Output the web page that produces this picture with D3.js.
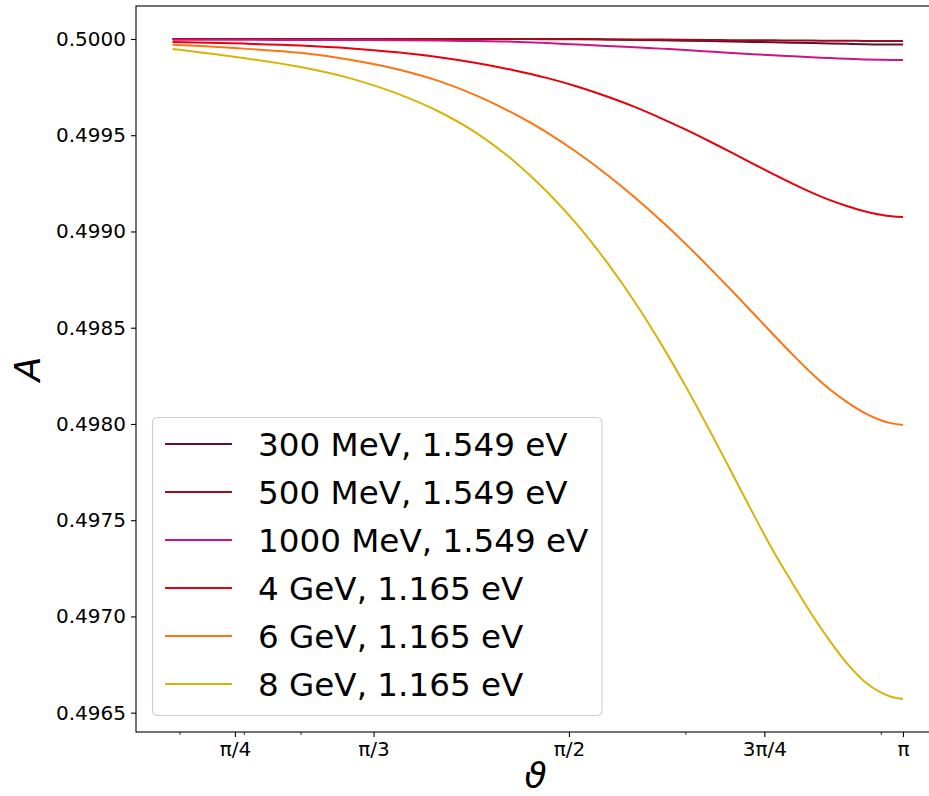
<!DOCTYPE html>
<html>
<head>
<meta charset="utf-8">
<script src="https://cdn.jsdelivr.net/npm/d3@7"></script>
<style>
  html, body { margin: 0; padding: 0; background: #ffffff; }
  svg { display: block; font-family: "DejaVu Sans", sans-serif; }
</style>
</head>
<body>
<svg id="chart" width="929" height="796"></svg>
<script>
// Scattering angle (rad) at which the asymmetry was evaluated
const theta = [0.69, 0.8, 0.9, 1.0, 1.1, 1.2, 1.3, 1.4, 1.5, 1.6, 1.7, 1.8, 1.9,
               2.0, 2.1, 2.2, 2.3, 2.4, 2.5, 2.6, 2.7, 2.8, 2.9, 3.0, 3.07, Math.PI];

// Asymmetry A(θ) for each beam energy / laser photon energy
const A_300MeV = [0.500000, 0.500000, 0.500000, 0.500000, 0.500000, 0.500000, 0.500000,
                  0.500000, 0.500000, 0.500000, 0.499998, 0.499995, 0.499993, 0.499991,
                  0.499989, 0.499987, 0.499985, 0.499983, 0.499981, 0.499979, 0.499977,
                  0.499975, 0.499973, 0.499972, 0.499972, 0.499972];
const A_500MeV = [0.500000, 0.500000, 0.500000, 0.500000, 0.500000, 0.500000, 0.500000,
                  0.500000, 0.499999, 0.499999, 0.499998, 0.499998, 0.499997, 0.499996,
                  0.499995, 0.499994, 0.499993, 0.499993, 0.499992, 0.499992, 0.499991,
                  0.499991, 0.499990, 0.499990, 0.499990, 0.499990];
const A_1000MeV = [0.499996, 0.499996, 0.499995, 0.499995, 0.499994, 0.499992, 0.499989,
                   0.499986, 0.499979, 0.499971, 0.499964, 0.499957, 0.499950, 0.499943,
                   0.499935, 0.499927, 0.499921, 0.499915, 0.499910, 0.499905, 0.499901,
                   0.499897, 0.499894, 0.499892, 0.499891, 0.499891];
const A_4GeV = [0.499984, 0.499976, 0.499966, 0.499951, 0.499931, 0.499905, 0.499874,
                0.499838, 0.499798, 0.499752, 0.499701, 0.499647, 0.499589, 0.499530,
                0.499470, 0.499411, 0.499353, 0.499298, 0.499247, 0.499202, 0.499163,
                0.499131, 0.499105, 0.499087, 0.499079, 0.499075];
const A_6GeV = [0.499970, 0.499950, 0.499928, 0.499891, 0.499843, 0.499781, 0.499703,
                0.499613, 0.499515, 0.499408, 0.499295, 0.499178, 0.499058, 0.498937,
                0.498815, 0.498695, 0.498578, 0.498465, 0.498359, 0.498262, 0.498179,
                0.498112, 0.498057, 0.498019, 0.498003, 0.497995];
const A_8GeV = [0.499948, 0.499901, 0.499854, 0.499794, 0.499716, 0.499622, 0.499507,
                0.499368, 0.499208, 0.499032, 0.498839, 0.498635, 0.498420, 0.498199,
                0.497974, 0.497752, 0.497538, 0.497340, 0.497169, 0.497010, 0.496872,
                0.496753, 0.496662, 0.496605, 0.496581, 0.496571];

const seriesLabels = ["300 MeV, 1.549 eV", "500 MeV, 1.549 eV", "1000 MeV, 1.549 eV",
                      "4 GeV, 1.165 eV", "6 GeV, 1.165 eV", "8 GeV, 1.165 eV"];
const seriesValues = [A_300MeV, A_500MeV, A_1000MeV, A_4GeV, A_6GeV, A_8GeV];
const seriesColors = ["#6a0c2c", "#9b0d1e", "#cc1485", "#e8000b", "#ff7412", "#d9b30a"];

// x axis tick marks (radians) and their labels
const xTickValues = [Math.PI / 4, Math.PI / 3, Math.PI / 2, 3 * Math.PI / 4, Math.PI];
const xTickLabels = ["π/4", "π/3", "π/2", "3π/4", "π"];
const xMinorTicks = [0.7, 0.8, 0.9, 2, 3];
const yTickValues = [0.4965, 0.4970, 0.4975, 0.4980, 0.4985, 0.4990, 0.4995, 0.5000];

// ---- layout ----
const svg = d3.select("#chart");
const plot = { left: 136, top: 6, right: 939.5, bottom: 732 };

// log-scaled angle axis with 5% padding on each side of the data range
const tMin = d3.min(theta), tMax = d3.max(theta);
const span = Math.log(tMax / tMin);
const x = d3.scaleLog()
  .domain([tMin * Math.exp(-0.05 * span), tMax * Math.exp(0.05 * span)])
  .range([plot.left, plot.right]);

const allVals = seriesValues.flat();
const vMin = d3.min(allVals), vMax = d3.max(allVals);
const vPad = 0.05 * (vMax - vMin);
const y = d3.scaleLinear()
  .domain([vMin - vPad, vMax + vPad])
  .range([plot.bottom, plot.top]);

// ---- curves ----
const line = d3.line()
  .x(d => x(d[0]))
  .y(d => y(d[1]))
  .curve(d3.curveMonotoneX);

const curves = svg.append("g");
seriesValues.forEach((vals, i) => {
  curves.append("path")
    .datum(theta.map((t, k) => [t, vals[k]]))
    .attr("fill", "none")
    .attr("stroke", seriesColors[i])
    .attr("stroke-width", 2)
    .attr("stroke-linejoin", "round")
    .attr("d", line);
});

// ---- frame ----
svg.append("rect")
  .attr("x", plot.left).attr("y", plot.top)
  .attr("width", plot.right - plot.left)
  .attr("height", plot.bottom - plot.top)
  .attr("fill", "none")
  .attr("stroke", "#000")
  .attr("stroke-width", 1.1);

// ---- y axis ----
const yAxis = d3.axisLeft(y)
  .tickValues(yTickValues)
  .tickFormat(d3.format(".4f"))
  .tickSize(5)
  .tickPadding(5);
const gy = svg.append("g")
  .attr("transform", `translate(${plot.left},0)`)
  .call(yAxis);
gy.select(".domain").remove();
gy.selectAll("text").attr("font-size", 20).attr("fill", "#000")
  .attr("font-family", "DejaVu Sans");
gy.selectAll("line").attr("stroke", "#000").attr("stroke-width", 1.1);

// ---- x axis ----
const xAxis = d3.axisBottom(x)
  .tickValues(xTickValues)
  .tickFormat((d, i) => xTickLabels[i])
  .tickSize(5)
  .tickPadding(5);
const gx = svg.append("g")
  .attr("transform", `translate(0,${plot.bottom})`)
  .call(xAxis);
gx.select(".domain").remove();
gx.selectAll("text").attr("font-size", 20).attr("fill", "#000")
  .attr("font-family", "DejaVu Sans");
gx.selectAll("line").attr("stroke", "#000").attr("stroke-width", 1.1);

const xMinor = d3.axisBottom(x)
  .tickValues(xMinorTicks)
  .tickFormat("")
  .tickSize(3);
const gxm = svg.append("g")
  .attr("transform", `translate(0,${plot.bottom})`)
  .call(xMinor);
gxm.select(".domain").remove();
gxm.selectAll("line").attr("stroke", "#000").attr("stroke-width", 0.8);

// ---- axis titles ----
svg.append("text")
  .attr("x", (plot.left + plot.right) / 2 - 2)
  .attr("y", 788)
  .attr("text-anchor", "middle")
  .attr("font-family", "DejaVu Sans")
  .attr("font-style", "italic")
  .attr("font-size", 36)
  .text("ϑ");

svg.append("text")
  .attr("transform", `translate(40,${(plot.top + plot.bottom) / 2}) rotate(-90)`)
  .attr("text-anchor", "middle")
  .attr("font-family", "DejaVu Sans")
  .attr("font-style", "italic")
  .attr("font-size", 36)
  .text("A");

// ---- legend ----
const legend = svg.append("g");
const lg = { x: 152.5, y: 417.5, w: 449.5, h: 298, row: 48, first: 444 };
legend.append("rect")
  .attr("x", lg.x).attr("y", lg.y)
  .attr("width", lg.w).attr("height", lg.h)
  .attr("rx", 5).attr("ry", 5)
  .attr("fill", "#ffffff").attr("fill-opacity", 0.8)
  .attr("stroke", "#cccccc").attr("stroke-width", 1.1);

seriesLabels.forEach((lab, i) => {
  const yy = lg.first + i * lg.row;
  legend.append("line")
    .attr("x1", 165).attr("x2", 232)
    .attr("y1", yy).attr("y2", yy)
    .attr("stroke", seriesColors[i])
    .attr("stroke-width", 2);
  legend.append("text")
    .attr("x", 258)
    .attr("y", yy + 11.5)
    .attr("font-family", "DejaVu Sans")
    .attr("font-size", 32.6)
    .attr("fill", "#000")
    .text(lab);
});
</script>
</body>
</html>
